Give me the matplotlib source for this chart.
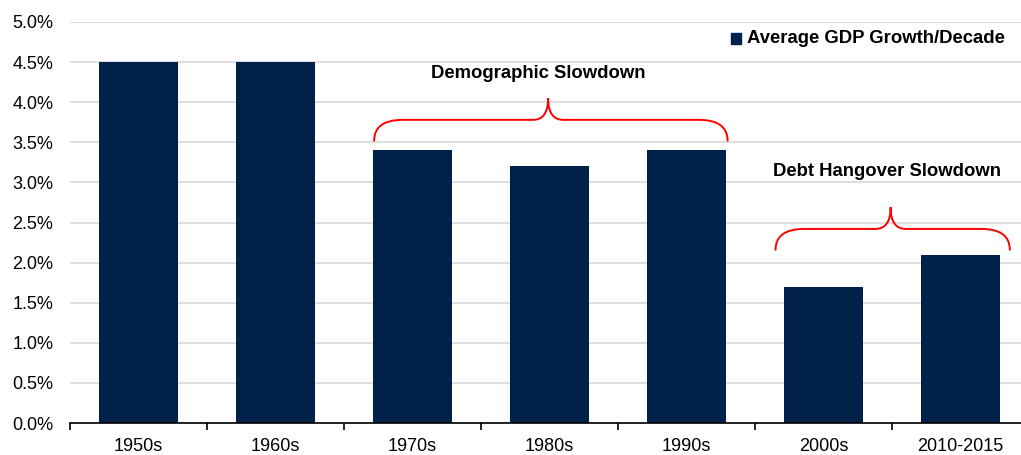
import numpy as np
import matplotlib
matplotlib.use("Agg")
import matplotlib.pyplot as plt
from matplotlib.path import Path
from matplotlib.patches import PathPatch, Rectangle
from matplotlib.ticker import FuncFormatter, FixedLocator

plt.rcParams['font.family'] = ['Liberation Sans', 'DejaVu Sans']

decades = ['1950s', '1960s', '1970s', '1980s', '1990s', '2000s', '2010-2015']
growth = [4.5, 4.5, 3.4, 3.2, 3.4, 1.7, 2.1]
series_name = 'Average GDP Growth/Decade'
brace_labels = ['Demographic Slowdown', 'Debt Hangover Slowdown']

navy = '#00214A'


def brace(ax, x0, x1, xt, yb, yh, ytip, rx=0.21, rt=0.11):
    """curly brace opening downward, tip pointing up"""
    verts = [(x0, yb), (x0, yh), (x0 + rx, yh),
             (xt - rt, yh),
             (xt, yh), (xt, ytip),
             (xt, yh), (xt + rt, yh),
             (x1 - rx, yh),
             (x1, yh), (x1, yb)]
    codes = [Path.MOVETO, Path.CURVE3, Path.CURVE3,
             Path.LINETO,
             Path.CURVE3, Path.CURVE3,
             Path.CURVE3, Path.CURVE3,
             Path.LINETO,
             Path.CURVE3, Path.CURVE3]
    ax.add_patch(PathPatch(Path(verts, codes), fill=False, edgecolor='red',
                           lw=1.4, zorder=4, capstyle='round'))


fig = plt.figure(figsize=(10.21, 4.55), dpi=100)
ax = fig.add_axes([70 / 1021, 1 - 423 / 455, 959 / 1021, 401 / 455])

x = np.arange(len(decades))
ax.bar(x, growth, width=0.57, color=navy, zorder=3)

ax.set_xlim(-0.5, len(decades) - 0.5)
ax.set_ylim(0, 5.0)
ax.set_yticks(np.arange(0, 5.01, 0.5))
ax.yaxis.set_major_formatter(FuncFormatter(lambda v, p: '%.1f%%' % v))
ax.grid(axis='y', color='#D9D9D9', lw=1.2, zorder=0)
ax.tick_params(axis='y', length=0, labelsize=13, pad=12, colors='black')

ax.set_xticks(x)
ax.set_xticklabels(decades)
ax.xaxis.set_minor_locator(FixedLocator(np.arange(-0.5, len(decades), 1.0)))
ax.tick_params(axis='x', which='major', length=0, labelsize=13, pad=11)
ax.tick_params(axis='x', which='minor', length=5, width=1.2, direction='out')

for s in ['left', 'right', 'top']:
    ax.spines[s].set_visible(False)
ax.spines['bottom'].set_linewidth(1.2)
ax.spines['bottom'].set_zorder(5)

brace(ax, 1.72, 4.30, 2.99, 3.52, 3.78, 4.05)
brace(ax, 4.65, 6.36, 5.49, 2.16, 2.42, 2.69)
ax.text(2.92, 4.36, brace_labels[0], ha='center', va='center',
        fontsize=13.3, fontweight='bold')
ax.text(5.46, 3.14, brace_labels[1], ha='center', va='center',
        fontsize=13.3, fontweight='bold')

# legend: marker square + label
fig.patches.append(Rectangle((731 / 1021, 1 - 43.5 / 455), 10 / 1021, 10 / 455,
                             transform=fig.transFigure, color=navy))
fig.text(747 / 1021, 1 - 38.5 / 455, series_name, ha='left', va='center',
         fontsize=13.3, fontweight='bold')

fig.savefig('out.png', dpi=100)
